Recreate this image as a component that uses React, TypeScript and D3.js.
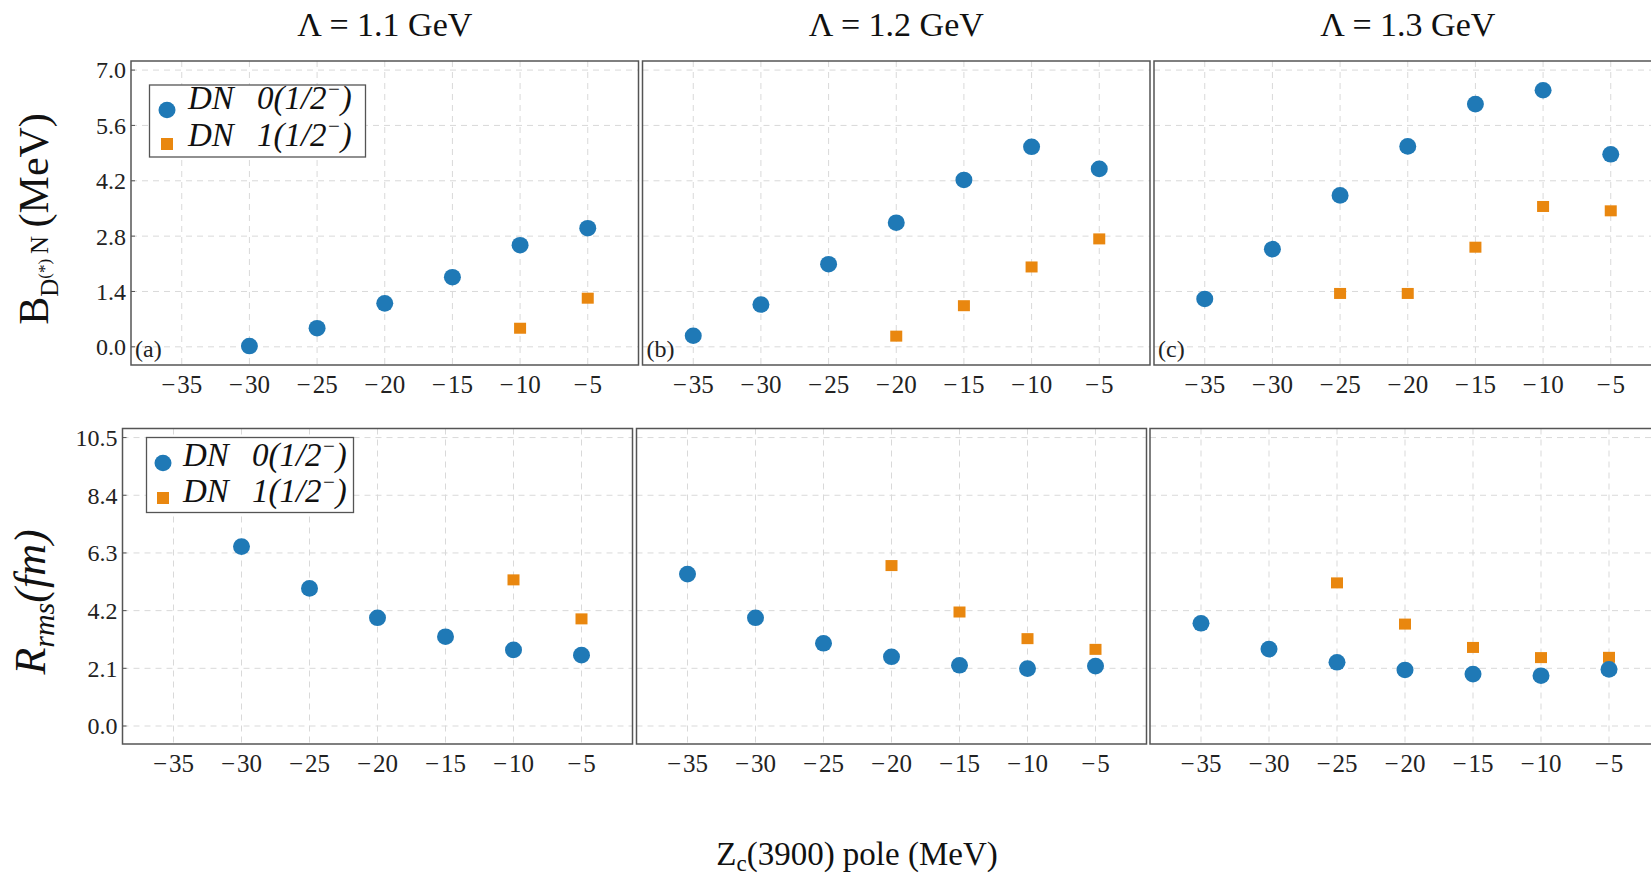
import React from "react";
import * as d3 from "d3";

// ---------- data ----------
const xTicks = [-35, -30, -25, -20, -15, -10, -5];
const bTicks = [0, 1.4, 2.8, 4.2, 5.6, 7.0];
const rTicks = [0, 2.1, 4.2, 6.3, 8.4, 10.5];
const lambdaLabels = ["Λ = 1.1 GeV", "Λ = 1.2 GeV", "Λ = 1.3 GeV"];
const panelTags = ["(a)", "(b)", "(c)"];

// Binding energies (MeV), isospin 0 (circles) and isospin 1 (squares)
const bI0_11 = [[-30, 0.02], [-25, 0.47], [-20, 1.1], [-15, 1.76], [-10, 2.57], [-5, 3.0]];
const bI1_11 = [[-10, 0.47], [-5, 1.23]];
const bI0_12 = [[-35, 0.28], [-30, 1.07], [-25, 2.09], [-20, 3.14], [-15, 4.22], [-10, 5.06], [-5, 4.5]];
const bI1_12 = [[-20, 0.27], [-15, 1.04], [-10, 2.02], [-5, 2.73]];
const bI0_13 = [[-35, 1.21], [-30, 2.47], [-25, 3.83], [-20, 5.07], [-15, 6.14], [-10, 6.49], [-5, 4.87]];
const bI1_13 = [[-25, 1.35], [-20, 1.35], [-15, 2.52], [-10, 3.55], [-5, 3.44]];

// RMS radii (fm)
const rI0_11 = [[-30, 6.53], [-25, 5.01], [-20, 3.94], [-15, 3.25], [-10, 2.77], [-5, 2.58]];
const rI1_11 = [[-10, 5.32], [-5, 3.9]];
const rI0_12 = [[-35, 5.53], [-30, 3.94], [-25, 3.01], [-20, 2.52], [-15, 2.21], [-10, 2.09], [-5, 2.18]];
const rI1_12 = [[-20, 5.84], [-15, 4.15], [-10, 3.18], [-5, 2.79]];
const rI0_13 = [[-35, 3.74], [-30, 2.8], [-25, 2.32], [-20, 2.04], [-15, 1.89], [-10, 1.83], [-5, 2.06]];
const rI1_13 = [[-25, 5.21], [-20, 3.71], [-15, 2.86], [-10, 2.49], [-5, 2.5]];

const topI0 = [bI0_11, bI0_12, bI0_13];
const topI1 = [bI1_11, bI1_12, bI1_13];
const botI0 = [rI0_11, rI0_12, rI0_13];
const botI1 = [rI1_11, rI1_12, rI1_13];

// ---------- style ----------
const BLUE = "#1f79b6";
const ORANGE = "#e9870f";
const FONT = "'Liberation Serif', 'Times New Roman', serif";
const FRAME = "#555";
const GRID = "#d9d9d9";

const xDomain: [number, number] = [-38.75, -1.25];
const topYDomain: [number, number] = [-0.46, 7.23];
const botYDomain: [number, number] = [-0.655, 10.83];

const topRow = { xs: [131, 642.5, 1154], w: 507.5, y0: 61, y1: 365 };
const botRow = { xs: [122.5, 636.5, 1150], w: 510, y0: 428.5, y1: 744 };

const fmtX = (v: number) => (v < 0 ? "\u2212\u200A" + Math.abs(v) : String(v));

function Panel({ x0, w, y0, y1, yDomain, yTicks, showY, i0, i1, tag }: any) {
  const x = d3.scaleLinear().domain(xDomain).range([x0, x0 + w]);
  const y = d3.scaleLinear().domain(yDomain).range([y1, y0]);
  return (
    <g>
      <rect x={x0} y={y0} width={w} height={y1 - y0} fill="white" />
      {xTicks.map((t) => (
        <line key={"gx" + t} x1={x(t)} x2={x(t)} y1={y0} y2={y1} stroke={GRID} strokeWidth={1} strokeDasharray="6,5" />
      ))}
      {yTicks.map((t: number) => (
        <line key={"gy" + t} x1={x0} x2={x0 + w} y1={y(t)} y2={y(t)} stroke={GRID} strokeWidth={1} strokeDasharray="6,5" />
      ))}
      {i1.map((d: number[], k: number) => (
        <rect key={"s" + k} x={x(d[0]) - 6} y={y(d[1]) - 5.5} width={12} height={11} fill={ORANGE} />
      ))}
      {i0.map((d: number[], k: number) => (
        <ellipse key={"c" + k} cx={x(d[0])} cy={y(d[1])} rx={8.5} ry={8.3} fill={BLUE} />
      ))}
      <rect x={x0} y={y0} width={w} height={y1 - y0} fill="none" stroke={FRAME} strokeWidth={1.5} />
      {showY &&
        yTicks.map((t: number) => (
          <g key={"ty" + t}>
            <line x1={x0} x2={x0 + 4} y1={y(t)} y2={y(t)} stroke={FRAME} strokeWidth={1} />
            <text x={x0 - 5} y={y(t)} dy="0.35em" textAnchor="end" fontFamily={FONT} fontSize={24} fill="#222">
              {t.toFixed(1)}
            </text>
          </g>
        ))}
      {xTicks.map((t) => (
        <text key={"tx" + t} x={x(t)} y={y1 + 28} textAnchor="middle" fontFamily={FONT} fontSize={25} fill="#222">
          {fmtX(t)}
        </text>
      ))}
      {tag && (
        <text x={x0 + 4} y={y1 - 8} fontFamily={FONT} fontSize={24} fill="#222">
          {tag}
        </text>
      )}
    </g>
  );
}

function Legend({ x, y, w, h, cx, cy1, cy2, tx, ty1, ty2 }: any) {
  const label = (iso: string, ty: number) => (
    <text x={tx} y={ty} fontFamily={FONT} fontSize={33} fontStyle="italic" fill="#111">
      DN{"\u2002\u2009"}{iso}(1/2<tspan dy={-13} fontSize={21}>−</tspan>
      <tspan dy={13}>)</tspan>
    </text>
  );
  return (
    <g>
      <rect x={x} y={y} width={w} height={h} fill="white" stroke={FRAME} strokeWidth={1.3} />
      <ellipse cx={cx} cy={cy1} rx={8.5} ry={8.3} fill={BLUE} />
      <rect x={cx - 6} y={cy2 - 6} width={12} height={12} fill={ORANGE} />
      {label("0", ty1)}
      {label("1", ty2)}
    </g>
  );
}

export default function App() {
  return (
    <svg width={1651} height={875} style={{ position: "absolute", left: 0, top: 0, background: "white" }}>
      {lambdaLabels.map((l, i) => (
        <text key={l} x={topRow.xs[i] + topRow.w / 2} y={36} textAnchor="middle" fontFamily={FONT} fontSize={34} fill="#111">
          {l}
        </text>
      ))}
      {topRow.xs.map((x0, i) => (
        <Panel key={"t" + i} x0={x0} w={topRow.w} y0={topRow.y0} y1={topRow.y1} yDomain={topYDomain} yTicks={bTicks}
          showY={i === 0} i0={topI0[i]} i1={topI1[i]} tag={panelTags[i]} />
      ))}
      {botRow.xs.map((x0, i) => (
        <Panel key={"b" + i} x0={x0} w={botRow.w} y0={botRow.y0} y1={botRow.y1} yDomain={botYDomain} yTicks={rTicks}
          showY={i === 0} i0={botI0[i]} i1={botI1[i]} tag={null} />
      ))}
      <Legend x={149.5} y={85} w={216} h={72} cx={167} cy1={110} cy2={144} tx={188} ty1={109} ty2={146} />
      <Legend x={146.5} y={437.5} w={207} h={75} cx={163} cy1={463} cy2={498} tx={183} ty1={466} ty2={502} />
      {/* y-axis labels */}
      <text transform="translate(48,219) rotate(-90)" textAnchor="middle" fontFamily={FONT} fontSize={42} fill="#111">
        B<tspan dy={10} fontSize={25}>D</tspan>
        <tspan dy={-8} fontSize={17}>(*)</tspan>
        <tspan dy={-2} fontSize={25}>{"\u2009"}N</tspan>
        <tspan dy={0} fontSize={42}>{"\u2009"}(MeV)</tspan>
      </text>
      <text transform="translate(45,602) rotate(-90)" textAnchor="middle" fontFamily={FONT} fontSize={44} fontStyle="italic" fill="#111">
        R<tspan dy={9} fontSize={30}>rms</tspan>
        <tspan dy={-9}>(fm)</tspan>
      </text>
      {/* x-axis label */}
      <text x={857} y={865} textAnchor="middle" fontFamily={FONT} fontSize={33} fill="#111">
        Z<tspan dy={6} fontSize={23}>c</tspan>
        <tspan dy={-6}>(3900) pole (MeV)</tspan>
      </text>
    </svg>
  );
}
